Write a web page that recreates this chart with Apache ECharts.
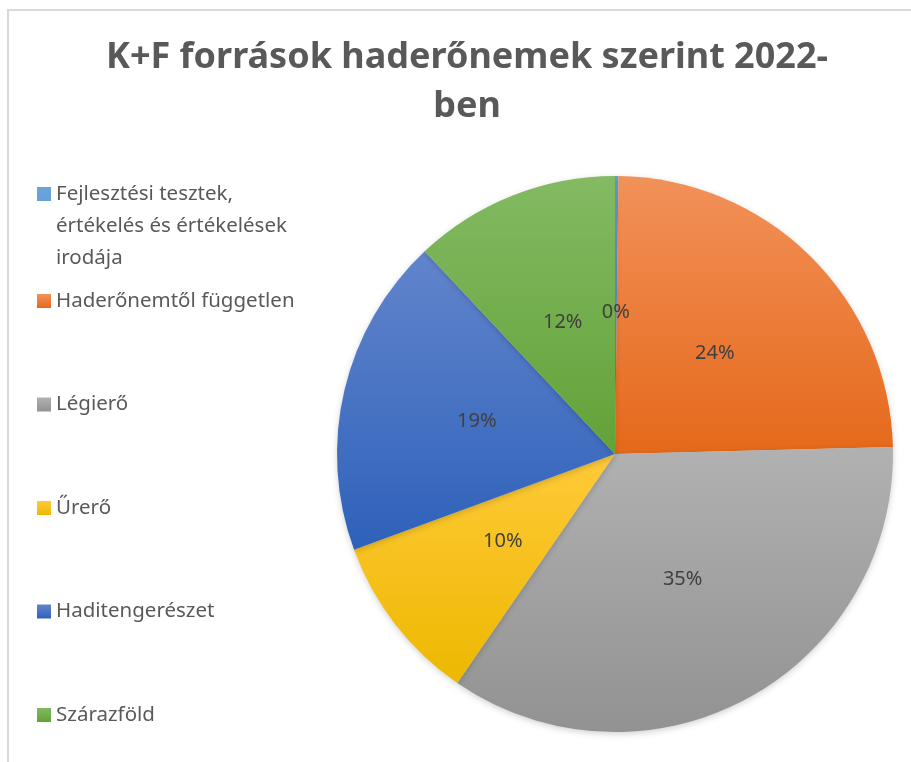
<!DOCTYPE html>
<html>
<head>
<meta charset="utf-8">
<script src="https://cdn.jsdelivr.net/npm/echarts@6/dist/echarts.min.js"></script>
<style>
  html, body { margin: 0; padding: 0; background: #fff; }
  #chart { width: 911px; height: 762px; }
</style>
</head>
<body>
<div id="chart"></div>
<script>
  // kategóriák és arányok (%)
  var names = [
    'Fejlesztési tesztek,\nértékelés és értékelések\nirodája',
    'Haderőnemtől független',
    'Légierő',
    'Űrerő',
    'Haditengerészet',
    'Szárazföld'
  ];
  var values = [0.2, 24.4, 35.0, 9.8, 18.6, 12.0];
  // színek: felső / alsó árnyalat
  var topColors = ['#6BA5DA', '#F2915A', '#B1B1B1', '#FFCA38', '#6285CC', '#83BA63'];
  var bottomColors = ['#4A8DCC', '#E5691A', '#929292', '#EDB800', '#2E61BA', '#62A237'];

  var chart = echarts.init(document.getElementById('chart'));

  var pieData = [];
  for (var i = 0; i < names.length; i++) {
    pieData.push({
      name: names[i],
      value: values[i],
      itemStyle: {
        color: new echarts.graphic.LinearGradient(0, 0, 0, 1, [
          { offset: 0, color: topColors[i] },
          { offset: 1, color: bottomColors[i] }
        ])
      }
    });
  }

  var legendText = {
    fontFamily: 'Noto Sans',
    fontSize: 20.5,
    color: '#595959',
    lineHeight: 32
  };

  var option = {
    animation: false,
    backgroundColor: '#fff',
    title: {
      text: 'K+F források haderőnemek szerint 2022-\nben',
      left: 462,
      top: 28,
      textAlign: 'center',
      textStyle: {
        fontFamily: 'Noto Sans',
        fontWeight: 'bold',
        fontSize: 36,
        lineHeight: 49,
        color: '#595959'
      }
    },
    legend: [
      {
        data: [names[0]],
        orient: 'vertical',
        left: 32,
        top: 173,
        itemWidth: 14,
        itemHeight: 78,
        // a négyzet az első sor mellé kerül
        icon: 'path://M0,0L14,0L14,14L0,14Z M0,77.99L0.01,78L0,78Z',
        itemStyle: { borderWidth: 0 },
        selectedMode: false,
        textStyle: legendText
      },
      {
        data: names.slice(1),
        orient: 'vertical',
        left: 32,
        top: 280,
        height: 480,
        itemWidth: 14,
        itemHeight: 14,
        itemGap: 71.5,
        icon: 'rect',
        itemStyle: { borderWidth: 0 },
        selectedMode: false,
        textStyle: legendText
      }
    ],
    graphic: [
      {
        type: 'rect',
        shape: { x: 8, y: 10, width: 1000, height: 1000 },
        style: { fill: 'none', stroke: '#D9D9D9', lineWidth: 2 },
        silent: true,
        z: -1
      }
    ],
    series: [
      {
        type: 'pie',
        center: [615, 454],
        radius: 278,
        startAngle: 90,
        clockwise: true,
        percentPrecision: 0,
        avoidLabelOverlap: false,
        itemStyle: {
          borderWidth: 0,
          shadowBlur: 6,
          shadowOffsetY: 2,
          shadowColor: 'rgba(0,0,0,0.18)'
        },
        label: {
          show: true,
          position: 'inside',
          formatter: '{d}%',
          fontFamily: 'Noto Sans',
          fontSize: 20,
          color: '#404040'
        },
        labelLine: { show: false },
        emphasis: { disabled: true },
        data: pieData
      }
    ]
  };

  chart.setOption(option);
</script>
</body>
</html>
